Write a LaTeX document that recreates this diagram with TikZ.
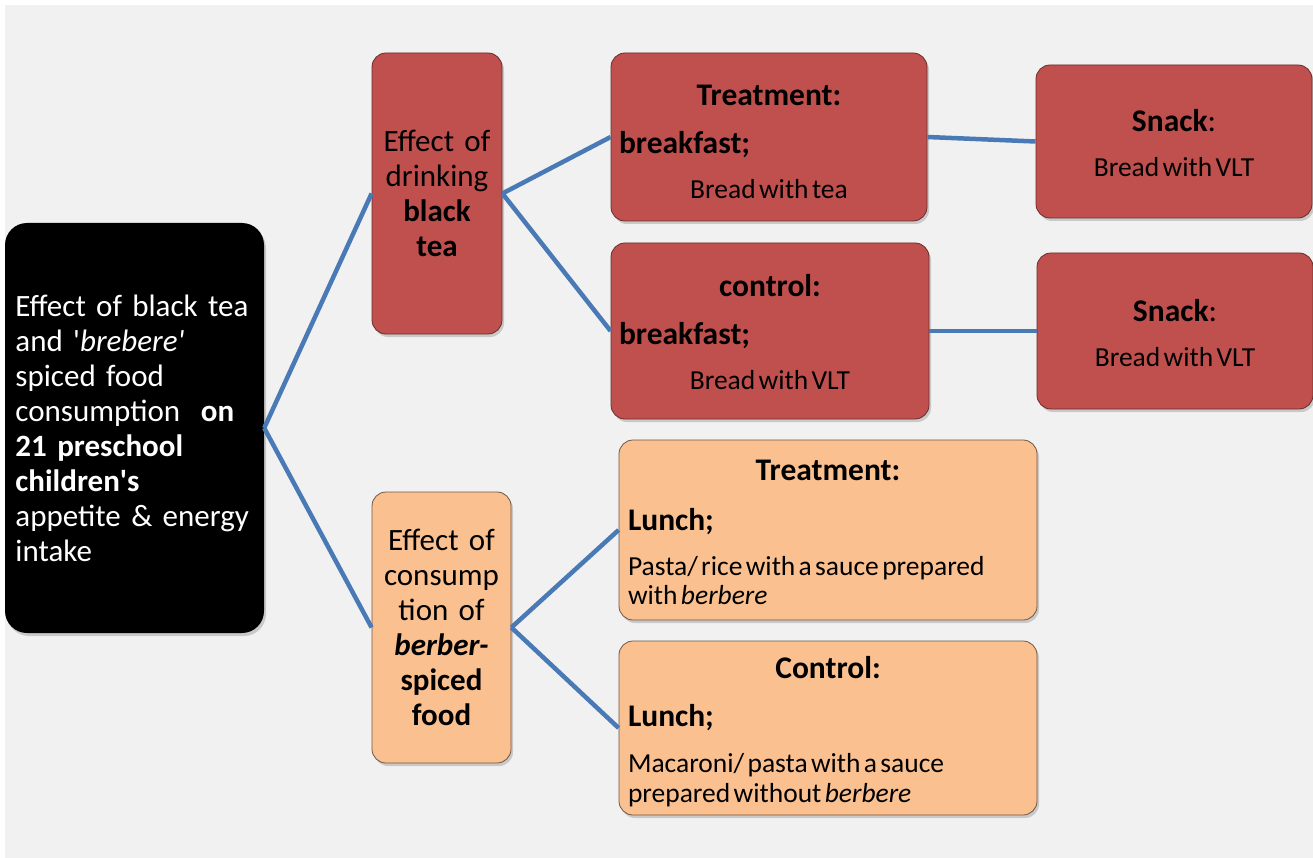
\documentclass[tikz,border=0pt]{standalone}
\usepackage{fontspec}
\setmainfont{Carlito}
\usetikzlibrary{shadows}
\definecolor{bggrey}{HTML}{F1F1F1}
\definecolor{teared}{HTML}{C0504D}
\definecolor{spiceorange}{HTML}{FAC090}
\definecolor{linkblue}{HTML}{4A7AB5}
\newcommand{\boxlift}[1]{\rule{0pt}{\dimexpr\fontcharht\font`l+#1\relax}}% pushes a box's text down
\tikzset{
  box/.style={rounded corners=14pt, inner sep=0pt, drop shadow={shadow xshift=2pt, shadow yshift=-3pt, opacity=0.35}},
  mainbox/.style={box, rounded corners=22pt, fill=black, text=white, align=left},
  redbox/.style={box, fill=teared, draw=teared!55!black, line width=0.8pt},
  orangebox/.style={box, fill=spiceorange, draw=spiceorange!45!black, line width=0.8pt},
  link/.style={draw=linkblue, line width=4.5pt},
}
\begin{document}
\begin{tikzpicture}[x=1pt, y=-1pt]
    \useasboundingbox (0,0) rectangle (1313,858);
    \fill [bggrey] (5,5) rectangle (1313,858);% background

    % study
    \node [mainbox, minimum width=259, minimum height=410, text width=238, font=\fontsize{31}{35}\selectfont]
      (study) at (134.5,428)
      {Effect of black tea\\ and \textquotesingle\textit{brebere\textquotesingle}\\ spiced food\\ consumption\ \ \textbf{on}\\ \textbf{21 preschool}\\ \textbf{children\textquotesingle s}\\ appetite \& energy\\ intake};

    % the two effects
    \node [redbox, minimum width=130, minimum height=281, text width=130, align=center, font=\fontsize{31}{35}\selectfont]
      (tea) at (437,193.5)
      {Effect of\\ drinking\\ \textbf{black}\\ \textbf{tea}};
    \node [orangebox, minimum width=139, minimum height=271, text width=139, align=center, font=\fontsize{31}{35}\selectfont]
      (berber) at (441.5,627.5)
      {Effect of\\ consump\\ tion of\\ \textbf{\textit{berber-}}\\ \textbf{spiced}\\ \textbf{food}};

    % breakfast arms
    \node [redbox, minimum width=316, minimum height=168, text width=300]
      (teaTrt) at (769,137)
      {\centering\fontsize{31.5}{35}\selectfont\bfseries\boxlift{8pt}Treatment:\par
       \raggedright\fontsize{31.5}{48}\selectfont breakfast;\par
       \centering\mdseries\fontsize{27.5}{45}\selectfont Bread with tea\par};
    \node [redbox, minimum width=318, minimum height=176, text width=302]
      (teaCtl) at (770,331)
      {\centering\fontsize{31.5}{35}\selectfont\bfseries\boxlift{2pt}control:\par
       \raggedright\fontsize{31.5}{48}\selectfont breakfast;\par
       \centering\mdseries\fontsize{27.5}{45}\selectfont Bread with VLT\par};

    % snacks
    \node [redbox, minimum width=276, minimum height=153, text width=276]
      (snackTrt) at (1174,141.5)
      {\centering\fontsize{31.5}{35}\selectfont\boxlift{4pt}\textbf{Snack}:\par
       \fontsize{27.5}{45}\selectfont Bread with VLT\par};
    \node [redbox, minimum width=276, minimum height=156, text width=276]
      (snackCtl) at (1175,331)
      {\centering\fontsize{31.5}{35}\selectfont\boxlift{4pt}\textbf{Snack}:\par
       \fontsize{27.5}{45}\selectfont Bread with VLT\par};

    % lunch arms
    \node [orangebox, minimum width=418, minimum height=180, text width=400]
      (spiceTrt) at (828,530)
      {\centering\fontsize{31.5}{35}\selectfont\bfseries\boxlift{3pt}Treatment:\par
       \raggedright\fontsize{31.5}{50}\selectfont Lunch;\par
       \vspace{16pt}\mdseries\fontsize{27.5}{29}\selectfont Pasta/ rice with a sauce prepared\\ with \textit{berbere}\par};
    \node [orangebox, minimum width=418, minimum height=174, text width=400]
      (spiceCtl) at (828,728)
      {\centering\fontsize{31.5}{35}\selectfont\bfseries\boxlift{7pt}Control:\par
       \raggedright\fontsize{31.5}{48}\selectfont Lunch;\par
       \vspace{16pt}\mdseries\fontsize{27.5}{30}\selectfont Macaroni/ pasta with a sauce\\ prepared without \textit{berbere}\par};

    \draw [link] (study.east) -- (tea.west);
    \draw [link] (study.east) -- (berber.west);
    \draw [link] (tea.east) -- (teaTrt.west);
    \draw [link] (tea.east) -- (teaCtl.west);
    \draw [link] (berber.east) -- (spiceTrt.west);
    \draw [link] (berber.east) -- (spiceCtl.west);
    \draw [link] (teaTrt.east) -- (snackTrt.west);% to snack
    \draw [link] (teaCtl.east) -- (snackCtl.west);% to snack
\end{tikzpicture}
\end{document}
